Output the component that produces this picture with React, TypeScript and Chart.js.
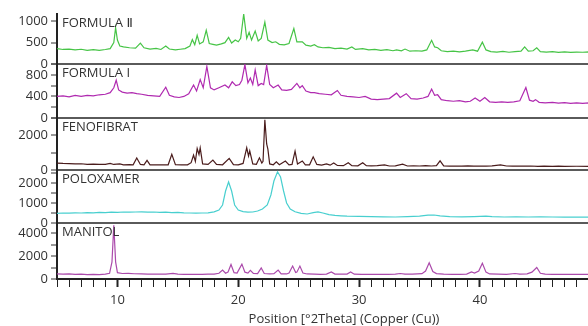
import React, { useEffect, useRef } from "react";
import { Chart, registerables } from "chart.js";

Chart.register(...registerables);

type Pt = [number, number];

const panelLabels = ["FORMULA \u2161", "FORMULA I", "FENOFIBRAT", "POLOXAMER", "MANITOL"];
const seriesColors = ["#46c446", "#b02ab0", "#4a1c1c", "#48cfcf", "#ab4aab"];
const xAxisTitle = "Position [\u00b02Theta] (Copper (Cu))";
const xMajorTicks = [10, 20, 30, 40];

const formulaII: Pt[] = [
  [5, 360], [5.5, 340], [6, 350], [6.5, 330], [7, 345], [7.5, 320], [8, 335], [8.5, 320], [9, 340], [9.4, 360],
  [9.7, 500], [9.85, 850], [10.0, 560], [10.2, 420], [10.5, 400], [11, 380], [11.5, 370], [11.9, 490], [12.2, 380],
  [12.7, 350], [13.2, 365], [13.6, 340], [14.0, 420], [14.3, 350], [14.8, 330], [15.2, 345], [15.6, 360], [16.0, 420],
  [16.2, 570], [16.4, 450], [16.6, 670], [16.8, 470], [17.1, 520], [17.35, 790], [17.6, 480], [17.9, 460], [18.2, 440],
  [18.6, 470], [18.9, 500], [19.2, 620], [19.45, 490], [19.75, 560], [20.0, 520], [20.2, 600], [20.45, 1170], [20.7, 600],
  [20.9, 740], [21.1, 560], [21.4, 770], [21.65, 540], [21.9, 600], [22.2, 980], [22.45, 560], [22.8, 500], [23.1, 520],
  [23.4, 460], [23.8, 450], [24.2, 480], [24.6, 830], [24.85, 520], [25.3, 520], [25.6, 440], [26.0, 420], [26.3, 450],
  [26.6, 400], [27.0, 380], [27.5, 390], [28.0, 360], [28.5, 370], [29.0, 350], [29.4, 400], [29.7, 340], [30.3, 360],
  [30.8, 330], [31.3, 340], [31.8, 320], [32.3, 335], [32.8, 310], [33.1, 330], [33.5, 310], [33.8, 350], [34.2, 300],
  [34.7, 310], [35.2, 300], [35.6, 330], [36.0, 555], [36.25, 400], [36.5, 380], [36.8, 310], [37.3, 290], [37.8, 300],
  [38.3, 285], [38.8, 300], [39.4, 330], [39.8, 300], [40.2, 510], [40.5, 330], [40.9, 290], [41.4, 280], [41.9, 295],
  [42.4, 275], [42.9, 290], [43.4, 300], [43.7, 400], [44.0, 300], [44.4, 310], [44.7, 380], [45.0, 290], [45.5, 280],
  [46.0, 290], [46.5, 270], [47.0, 285], [47.5, 270], [48.0, 280], [48.5, 275], [49.0, 285], [49.5, 270], [50, 280],
];

const formulaI: Pt[] = [
  [5, 400], [5.5, 410], [6, 390], [6.5, 420], [7, 400], [7.5, 420], [8, 410], [8.5, 430], [9, 440], [9.4, 470],
  [9.7, 560], [9.9, 700], [10.1, 520], [10.4, 480], [10.8, 460], [11.2, 470], [11.6, 450], [12.0, 440], [12.5, 420],
  [13.0, 410], [13.5, 400], [14.0, 570], [14.3, 420], [14.7, 390], [15.1, 380], [15.5, 400], [15.9, 450], [16.3, 610],
  [16.55, 500], [16.85, 710], [17.1, 560], [17.4, 955], [17.7, 560], [18.0, 520], [18.4, 560], [18.9, 610], [19.2, 560],
  [19.5, 670], [19.8, 600], [20.1, 620], [20.3, 700], [20.55, 990], [20.8, 650], [21.0, 740], [21.2, 620], [21.4, 890],
  [21.65, 600], [21.9, 640], [22.1, 620], [22.35, 975], [22.6, 620], [22.9, 560], [23.3, 610], [23.6, 520], [24.0, 510],
  [24.4, 530], [24.85, 640], [25.1, 560], [25.3, 600], [25.6, 500], [26.0, 470], [26.3, 470], [26.7, 450], [27.2, 440],
  [27.7, 430], [28.2, 510], [28.5, 420], [29.0, 400], [29.5, 390], [30.0, 380], [30.5, 400], [31.0, 350], [31.5, 340],
  [32.0, 350], [32.5, 360], [33.1, 460], [33.4, 380], [33.9, 450], [34.3, 360], [34.8, 350], [35.3, 370], [35.7, 400],
  [36.0, 535], [36.25, 420], [36.5, 430], [36.8, 340], [37.3, 320], [37.8, 310], [38.3, 320], [38.8, 300], [39.2, 310],
  [39.6, 370], [40.0, 310], [40.4, 380], [40.8, 300], [41.3, 290], [41.8, 300], [42.3, 290], [42.8, 300], [43.3, 320],
  [43.8, 565], [44.1, 330], [44.4, 310], [44.6, 340], [44.9, 290], [45.4, 280], [46, 290], [46.5, 275], [47, 285],
  [47.5, 270], [48, 280], [48.5, 270], [49, 280], [50, 275],
];

const fenofibrat: Pt[] = [
  [5, 400], [5.5, 380], [6, 370], [6.5, 350], [7, 360], [7.5, 330], [8, 340], [8.5, 320], [9, 330], [9.4, 380],
  [9.7, 320], [10.2, 350], [10.5, 300], [11.0, 310], [11.3, 300], [11.6, 690], [11.9, 320], [12.2, 300], [12.45, 560],
  [12.7, 300], [13.2, 290], [13.7, 290], [14.2, 300], [14.5, 900], [14.8, 310], [15.3, 290], [15.8, 300], [16.1, 420],
  [16.3, 860], [16.45, 500], [16.6, 1240], [16.75, 900], [16.85, 1280], [17.05, 350], [17.5, 320], [17.9, 570],
  [18.2, 320], [18.7, 300], [19.25, 670], [19.6, 310], [20.0, 300], [20.4, 380], [20.7, 1280], [20.85, 800],
  [20.95, 1100], [21.2, 350], [21.5, 330], [21.75, 700], [21.95, 400], [22.05, 500], [22.2, 2900], [22.35, 1500],
  [22.45, 1200], [22.6, 350], [22.9, 300], [23.15, 470], [23.4, 300], [23.9, 520], [24.2, 300], [24.45, 320],
  [24.7, 1090], [24.9, 350], [25.3, 520], [25.55, 300], [25.9, 300], [26.2, 760], [26.5, 320], [26.9, 280], [27.3, 350],
  [27.6, 280], [27.9, 400], [28.2, 260], [28.7, 250], [29.1, 420], [29.4, 250], [29.9, 240], [30.3, 420], [30.6, 250],
  [31.0, 240], [31.5, 250], [32.1, 300], [32.5, 230], [33.0, 240], [33.6, 340], [34.0, 230], [34.5, 240], [35.0, 230],
  [35.5, 250], [36.0, 230], [36.4, 250], [36.7, 530], [37.0, 240], [37.5, 220], [38.0, 230], [38.5, 220], [39.0, 240],
  [39.5, 220], [40.0, 230], [40.5, 220], [41.0, 240], [41.7, 300], [42.2, 230], [42.7, 220], [43.2, 230], [43.7, 220],
  [44.2, 230], [44.8, 210], [45.3, 220], [46, 210], [46.5, 220], [47, 210], [48, 215], [49, 210], [50, 210],
];

const poloxamer: Pt[] = [
  [5, 480], [5.5, 500], [6, 490], [6.5, 510], [7, 500], [7.5, 520], [8, 510], [8.5, 530], [9, 520], [9.5, 540],
  [10, 530], [10.5, 550], [11, 540], [11.5, 550], [12, 560], [12.5, 540], [13, 550], [13.5, 530], [14, 540], [14.5, 520],
  [15, 530], [15.5, 510], [16, 500], [16.5, 490], [17, 500], [17.5, 510], [18, 560], [18.4, 650], [18.7, 900],
  [18.95, 1600], [19.2, 2050], [19.45, 1600], [19.7, 900], [20.0, 650], [20.4, 570], [20.8, 540], [21.2, 550],
  [21.6, 600], [22.0, 700], [22.4, 900], [22.7, 1400], [22.95, 2100], [23.25, 2560], [23.5, 2300], [23.75, 1600],
  [24.0, 1000], [24.3, 700], [24.7, 560], [25.2, 480], [25.7, 450], [26.2, 520], [26.6, 560], [27.0, 500], [27.5, 420],
  [28.0, 380], [28.5, 360], [29, 340], [30, 330], [31, 320], [32, 310], [33, 300], [34, 320], [35, 340], [35.7, 390],
  [36.2, 400], [36.7, 360], [37.5, 320], [38.5, 310], [39.5, 320], [40.5, 340], [41, 320], [42, 300], [43, 310],
  [44, 300], [45, 310], [46, 300], [47, 290], [48, 300], [49, 290], [50, 290],
];

const manitol: Pt[] = [
  [5, 450], [5.5, 420], [6, 440], [6.5, 400], [7, 420], [7.5, 380], [8, 400], [8.5, 390], [9, 420], [9.35, 500],
  [9.55, 1500], [9.7, 4700], [9.85, 1500], [10.0, 550], [10.4, 480], [10.9, 500], [11.4, 460], [12, 440], [12.5, 430],
  [13, 420], [13.5, 420], [14, 430], [14.6, 500], [15, 420], [15.5, 410], [16, 410], [16.5, 410], [17, 410], [17.5, 420],
  [18, 430], [18.4, 500], [18.7, 780], [18.95, 500], [19.15, 600], [19.4, 1270], [19.65, 550], [19.9, 520], [20.3, 1300],
  [20.55, 600], [20.8, 520], [21.0, 750], [21.25, 480], [21.6, 470], [21.9, 970], [22.15, 480], [22.6, 440],
  [22.95, 460], [23.3, 780], [23.55, 450], [24.0, 440], [24.2, 520], [24.5, 1130], [24.75, 560], [24.85, 600],
  [25.1, 1130], [25.35, 520], [25.7, 440], [26.3, 420], [26.8, 410], [27.3, 430], [27.7, 620], [28.0, 430], [28.6, 420],
  [29.0, 430], [29.3, 620], [29.6, 420], [30.2, 410], [31, 410], [31.8, 400], [32.4, 410], [33.0, 430], [33.4, 480],
  [33.8, 420], [34.4, 420], [34.8, 450], [35.2, 470], [35.5, 700], [35.8, 1420], [36.1, 650], [36.4, 470], [37.0, 420],
  [37.7, 400], [38.3, 410], [38.9, 430], [39.3, 620], [39.55, 520], [39.9, 700], [40.2, 1380], [40.5, 600], [40.8, 440],
  [41.5, 420], [42.2, 410], [42.9, 480], [43.3, 420], [43.9, 450], [44.3, 600], [44.7, 1010], [45.0, 500], [45.4, 420],
  [46, 400], [46.8, 410], [47.5, 400], [48.3, 410], [49, 400], [50, 400],
];

const seriesList: Pt[][] = [formulaII, formulaI, fenofibrat, poloxamer, manitol];

// y-axis range, tick values and labelled values for each panel (top to bottom)
const yMax = [1170, 1000, 3000, 2650, 4900];
const yTicks = [
  [0, 500, 1000],
  [0, 200, 400, 600, 800, 1000],
  [0, 1000, 2000, 3000],
  [0, 500, 1000, 1500, 2000, 2500],
  [0, 1000, 2000, 3000, 4000],
];
const yLabelled = [
  [0, 500, 1000],
  [0, 400, 800],
  [0, 2000],
  [0, 1000, 2000],
  [0, 2000, 4000],
];
const panelWeight = [50, 54, 52, 53, 56];

const FONT = "'Open Sans', 'DejaVu Sans', sans-serif";
const TEXT = "#333333";

export default function App() {
  const ref = useRef<HTMLCanvasElement | null>(null);

  useEffect(() => {
    document.body.style.margin = "0";
    if (!ref.current) return;
    const ids = panelLabels.map((_, i) => "y" + i);

    const scales: any = {
      x: {
        type: "linear",
        min: 5,
        max: 52.5,
        afterFit: (s: any) => { s.height = 47; },
        border: { display: true, color: "#222", width: 2 },
        grid: {
          drawOnChartArea: false,
          tickLength: 8,
          tickColor: "#222",
          tickWidth: (c: any) => (c.tick && xMajorTicks.includes(c.tick.value) ? 2 : 1),
        },
        ticks: {
          stepSize: 1,
          autoSkip: false,
          maxRotation: 0,
          includeBounds: false,
          padding: 5,
          color: TEXT,
          font: { family: FONT, size: 13 },
          callback: (v: any) => (xMajorTicks.includes(Number(v)) ? String(v) : ""),
        },
        title: {
          display: true,
          text: xAxisTitle,
          color: TEXT,
          font: { family: FONT, size: 13, lineHeight: 1 },
          padding: { top: 0, bottom: 0 },
        },
      },
    };
    // define bottom panel first: stacked left axes are laid out bottom-up
    for (let i = ids.length - 1; i >= 0; i--) {
      const tickVals = yTicks[i];
      const labelled = yLabelled[i];
      scales[ids[i]] = {
        type: "linear",
        position: "left",
        stack: "xrd",
        stackWeight: panelWeight[i],
        min: 0,
        max: yMax[i],
        afterFit: (s: any) => { s.width = 57; },
        afterBuildTicks: (s: any) => { s.ticks = tickVals.map((v) => ({ value: v })); },
        border: { display: true, color: "#222", width: 2 },
        grid: {
          drawOnChartArea: true,
          color: (c: any) => (c.tick && c.tick.value === 0 ? "#5a5a5a" : "rgba(0,0,0,0)"),
          lineWidth: 2,
          tickLength: 6,
          tickColor: "#333",
          tickWidth: 1,
        },
        ticks: {
          autoSkip: false,
          padding: 3,
          color: TEXT,
          font: { family: FONT, size: 13 },
          callback: (v: any) => (labelled.includes(Number(v)) ? String(v) : ""),
        },
      };
    }

    const labelPlugin = {
      id: "panelLabels",
      afterDraw(chart: any) {
        const ctx = chart.ctx;
        ctx.save();
        ctx.font = `13px ${FONT}`;
        ctx.fillStyle = TEXT;
        ctx.textBaseline = "top";
        ctx.textAlign = "left";
        ids.forEach((id, i) => {
          const sc = chart.scales[id];
          ctx.fillText(panelLabels[i], chart.chartArea.left + 5, sc.top + 3);
        });
        ctx.restore();
      },
    };

    const chart = new Chart(ref.current, {
      type: "line",
      data: {
        datasets: seriesList.map((s, i) => ({
          label: panelLabels[i],
          data: s.map(([x, y]) => ({ x, y })),
          yAxisID: ids[i],
          borderColor: seriesColors[i],
          borderWidth: 1.2,
          pointRadius: 0,
          tension: 0,
          fill: false,
        })),
      },
      options: {
        responsive: false,
        animation: false,
        layout: { padding: { top: 14, left: 0, right: 9, bottom: 0 } },
        plugins: { legend: { display: false }, tooltip: { enabled: false } },
        scales,
      },
      plugins: [labelPlugin],
    });
    return () => chart.destroy();
  }, []);

  return (
    <div style={{ width: 588, height: 326, overflow: "hidden" }}>
      <canvas ref={ref} width={640} height={326} style={{ display: "block" }} />
    </div>
  );
}
